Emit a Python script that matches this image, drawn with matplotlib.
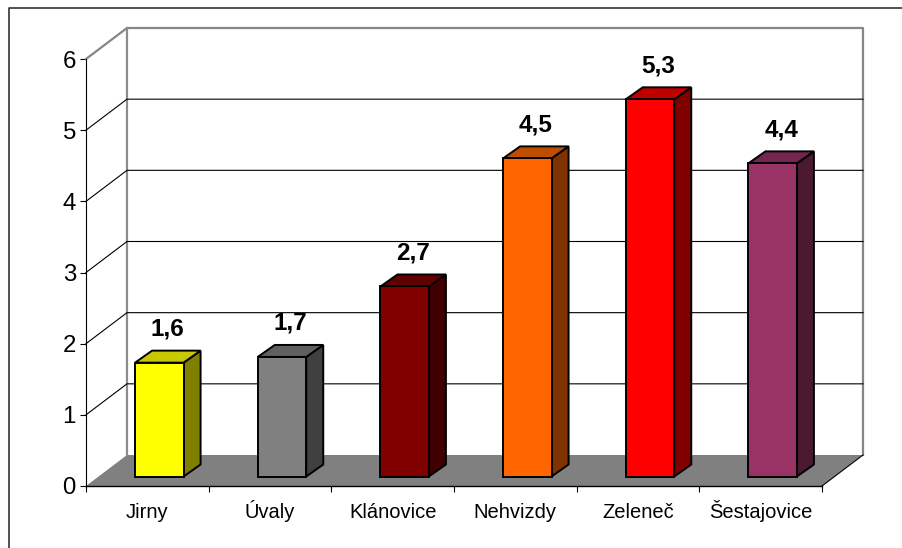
import matplotlib
matplotlib.use('Agg')
import matplotlib.pyplot as plt
from matplotlib.lines import Line2D

plt.rcParams['font.family'] = ['Liberation Sans', 'DejaVu Sans']

# data
towns = ['Jirny', 'Úvaly', 'Klánovice', 'Nehvizdy', 'Zeleneč', 'Šestajovice']
values = [1.6, 1.68, 2.67, 4.47, 5.3, 4.4]
labels = ['1,6', '1,7', '2,7', '4,5', '5,3', '4,4']
front_colors = ['#FFFF00', '#808080', '#800000', '#FF6600', '#FF0000', '#993366']
top_colors = ['#C8C800', '#606060', '#600000', '#BF4D00', '#C00000', '#732650']
side_colors = ['#808000', '#404040', '#400000', '#803300', '#800000', '#4C1933']

W, H = 903, 548
fig = plt.figure(figsize=(W / 100, H / 100), dpi=100, facecolor='white')

# axes box is the front plane of the old 3d chart
left, right, top, bottom = 86, 822, 59, 486
ax = fig.add_axes([left / W, 1 - bottom / H, (right - left) / W, (bottom - top) / H])
ax.set_xlim(0, 6)
ax.set_ylim(0, 6)
ax.patch.set_visible(False)

ux = (right - left) / 6
uy = (bottom - top) / 6
depth_x = 41 / ux
depth_y = 31 / uy

# floor and walls
ax.fill([0, 6, 6 + depth_x, depth_x], [0, 0, depth_y, depth_y], color='#808080', lw=0, zorder=1, clip_on=False)
ax.plot([0, depth_x, 6 + depth_x, 6 + depth_x], [6, 6 + depth_y, 6 + depth_y, depth_y],
        color='#868686', lw=1.6, zorder=2, clip_on=False)
ax.plot([depth_x, depth_x], [depth_y, 6 + depth_y], color='#8c8c8c', lw=1.6, zorder=2, clip_on=False)
ax.plot([6, 6 + depth_x], [0, depth_y], color='black', lw=0.8, zorder=2, clip_on=False)

# gridlines on side wall and back wall
for k in range(1, 6):
    ax.plot([0, depth_x, 6 + depth_x], [k, k + depth_y, k + depth_y], color='black', lw=0.8, zorder=2, clip_on=False)

# bars
bar_w = 48.5 / ux
off_x = 12 / ux
off_y = 9.5 / uy
side_x = 17 / ux
side_y = 12 / uy
for i, v in enumerate(values):
    c = i + 0.5 + off_x
    x0 = c - bar_w / 2
    x1 = c + bar_w / 2
    y0 = off_y
    y1 = off_y + v
    ax.fill([x1, x1 + side_x, x1 + side_x, x1], [y0, y0 + side_y, y1 + side_y, y1],
            facecolor=side_colors[i], edgecolor='black', lw=1.4, zorder=3, clip_on=False, joinstyle='miter')
    ax.fill([x0, x1, x1 + side_x, x0 + side_x], [y1, y1, y1 + side_y, y1 + side_y],
            facecolor=top_colors[i], edgecolor='black', lw=1.4, zorder=3, clip_on=False, joinstyle='miter')
    ax.bar(c, v, width=bar_w, bottom=off_y, color=front_colors[i], edgecolor='black', lw=1.4, zorder=4, clip_on=False)
    ax.text(c + side_x / 2, y1 + 27 / uy, labels[i], ha='center', va='baseline', fontsize=17.5,
            fontweight='bold', color='black', zorder=5, clip_on=False)

# axes and ticks
for s in ['top', 'right']:
    ax.spines[s].set_visible(False)
ax.spines['left'].set_linewidth(0.8)
ax.spines['bottom'].set_linewidth(1.0)
ax.spines['left'].set_zorder(2)
ax.set_yticks(range(7))
ax.tick_params(axis='y', length=4.3, width=0.8, pad=2.9, labelsize=17.3)
ax.set_xticks(range(7))
ax.set_xticklabels([])
ax.tick_params(axis='x', which='major', length=4.3, width=0.8)
ax.set_xticks([i + 0.5 for i in range(6)], minor=True)
ax.set_xticklabels(towns, minor=True, fontsize=14.5, va='baseline')
ax.tick_params(axis='x', which='minor', length=0, pad=23)

# outer frame, only left and top fall inside the picture
fig.add_artist(Line2D([9 / W, 9 / W, 1], [0, 1 - 7.5 / H, 1 - 7.5 / H], color='#222222', lw=1.1))

fig.savefig('out.png', dpi=100)
